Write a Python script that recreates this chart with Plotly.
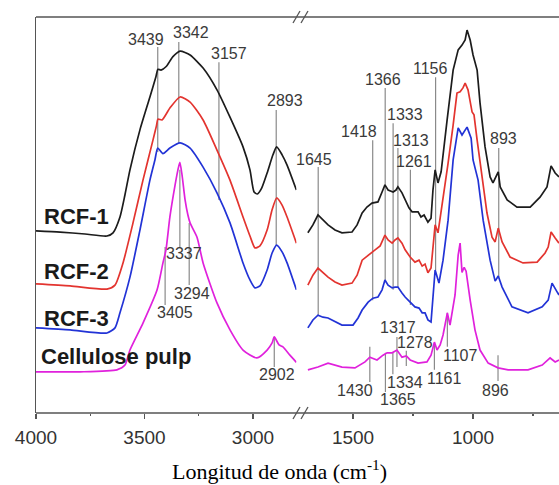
import plotly.graph_objects as go

# ---------------- data (wavenumber cm-1, absorbance a.u. with offsets) ----------------
# high-wavenumber segment (4000-2800)
rcf1_hi_wn = [4000, 3889, 3774, 3673, 3645, 3613, 3590, 3567, 3521, 3475, 3447, 3438, 3424, 3400, 3369, 3336, 3290, 3230, 3166, 3106, 3046, 3014, 2995, 2980, 2960, 2935, 2908, 2891, 2866, 2843, 2800]
rcf1_hi_ab = [46.0, 45.7, 45.2, 44.7, 45.5, 49.5, 55.1, 61.4, 71.5, 79.8, 85.0, 86.8, 86.6, 87.5, 90.0, 91.4, 90.4, 87.1, 81.6, 74.7, 67.2, 61.4, 55.8, 55.3, 56.8, 60.6, 65.2, 67.2, 65.2, 62.6, 56.3]

rcf2_hi_wn = [4000, 3843, 3673, 3636, 3599, 3553, 3507, 3461, 3445, 3438, 3419, 3383, 3336, 3290, 3230, 3166, 3106, 3046, 3014, 2991, 2968, 2935, 2912, 2891, 2866, 2843, 2800]
rcf2_hi_ab = [32.6, 32.1, 31.3, 32.3, 37.9, 48.0, 58.8, 68.9, 72.5, 74.2, 74.0, 77.0, 79.8, 78.5, 74.0, 66.4, 58.8, 49.5, 44.7, 41.7, 42.2, 46.2, 51.3, 54.3, 52.5, 49.5, 42.9]

rcf3_hi_wn = [4000, 3843, 3673, 3636, 3613, 3567, 3521, 3475, 3452, 3439, 3415, 3383, 3336, 3290, 3230, 3166, 3106, 3046, 3014, 2991, 2968, 2935, 2912, 2891, 2866, 2843, 2800]
rcf3_hi_ab = [21.5, 21.0, 20.2, 21.5, 25.3, 34.3, 46.2, 58.8, 63.9, 66.9, 65.5, 66.9, 68.2, 66.9, 62.1, 55.6, 48.0, 37.9, 33.6, 31.6, 32.1, 36.1, 40.4, 42.4, 40.7, 37.9, 31.1]

pulp_hi_wn = [4000, 3797, 3627, 3590, 3567, 3507, 3442, 3415, 3401, 3383, 3359, 3346, 3337, 3327, 3313, 3300, 3290, 3258, 3230, 3166, 3106, 3046, 2982, 2935, 2912, 2902, 2880, 2862, 2830, 2800]
pulp_hi_ab = [10.4, 10.4, 10.9, 12.1, 15.9, 22.7, 31.1, 37.9, 41.2, 49.5, 57.6, 61.4, 63.3, 60.1, 53.8, 50.0, 48.0, 44.4, 37.9, 27.8, 21.0, 15.9, 13.9, 15.9, 17.7, 19.2, 17.2, 16.7, 14.6, 12.8]

# low-wavenumber segment (1700-640)
rcf1_lo_wn = [1688, 1667, 1646, 1625, 1604, 1575, 1546, 1504, 1483, 1462, 1442, 1421, 1396, 1379, 1367, 1354, 1333, 1321, 1313, 1296, 1283, 1267, 1254, 1229, 1217, 1204, 1188, 1175, 1167, 1158, 1146, 1133, 1108, 1083, 1062, 1046, 1033, 1025, 1012, 1000, 983, 971, 950, 929, 917, 895, 887, 858, 817, 762, 721, 692, 675, 658, 642]
rcf1_lo_ab = [45.5, 47.5, 50.0, 48.7, 47.5, 46.2, 45.5, 45.7, 47.5, 50.5, 52.0, 53.0, 53.3, 55.8, 57.6, 56.3, 55.8, 56.3, 57.1, 55.6, 53.8, 51.8, 50.8, 50.8, 49.5, 50.0, 48.2, 49.2, 56.3, 61.4, 58.1, 60.9, 74.0, 86.6, 91.7, 92.9, 94.2, 96.7, 94.2, 90.4, 86.6, 78.3, 67.2, 59.6, 58.1, 60.9, 57.1, 53.8, 52.0, 52.0, 54.5, 57.1, 62.4, 60.6, 59.6]

rcf2_lo_wn = [1688, 1667, 1646, 1625, 1604, 1575, 1546, 1504, 1483, 1462, 1437, 1408, 1387, 1367, 1354, 1337, 1325, 1313, 1296, 1283, 1262, 1242, 1225, 1212, 1200, 1188, 1175, 1167, 1158, 1146, 1125, 1104, 1083, 1067, 1054, 1042, 1033, 1021, 1004, 996, 983, 962, 942, 921, 908, 895, 879, 846, 792, 733, 700, 687, 675, 658, 642]
rcf2_lo_ab = [32.3, 34.8, 36.6, 35.4, 34.3, 33.1, 32.3, 32.8, 34.8, 38.6, 39.9, 41.2, 42.2, 44.9, 43.7, 42.9, 43.7, 44.2, 42.9, 41.2, 39.4, 38.1, 38.6, 37.1, 37.6, 35.4, 36.6, 42.4, 47.5, 45.5, 53.8, 63.1, 72.7, 80.8, 81.1, 82.1, 83.3, 81.6, 76.0, 75.3, 68.9, 59.6, 50.5, 44.4, 43.2, 46.7, 43.2, 39.4, 37.9, 38.1, 40.4, 41.9, 45.7, 44.2, 42.9]

rcf3_lo_wn = [1688, 1667, 1646, 1625, 1604, 1575, 1546, 1500, 1479, 1462, 1437, 1417, 1396, 1379, 1367, 1354, 1337, 1325, 1313, 1296, 1283, 1262, 1242, 1225, 1212, 1200, 1188, 1175, 1167, 1158, 1142, 1125, 1104, 1083, 1062, 1046, 1025, 1008, 1000, 979, 958, 929, 908, 895, 879, 838, 771, 712, 687, 671, 650, 642]
rcf3_lo_ab = [21.5, 23.5, 24.7, 24.2, 24.0, 23.0, 22.2, 22.2, 24.0, 26.0, 28.0, 29.0, 29.3, 31.1, 33.6, 32.3, 31.6, 31.8, 31.8, 30.3, 29.3, 28.0, 26.8, 26.5, 25.3, 25.3, 23.5, 23.0, 29.8, 36.1, 32.8, 38.6, 48.7, 63.9, 72.0, 70.2, 72.2, 69.4, 63.9, 58.8, 48.7, 38.6, 33.3, 34.6, 31.8, 26.8, 25.3, 26.8, 28.5, 32.8, 30.6, 29.8]

pulp_lo_wn = [1688, 1646, 1604, 1546, 1492, 1450, 1430, 1400, 1375, 1358, 1337, 1317, 1296, 1278, 1262, 1229, 1192, 1175, 1161, 1150, 1137, 1125, 1107, 1096, 1075, 1062, 1054, 1046, 1037, 1029, 1012, 992, 971, 937, 896, 854, 771, 712, 679, 658, 642]
pulp_lo_ab = [10.9, 11.6, 12.6, 11.6, 11.4, 12.9, 14.1, 13.4, 14.6, 15.2, 15.2, 15.9, 14.1, 14.4, 13.4, 12.6, 12.9, 14.6, 17.9, 15.9, 17.2, 19.7, 25.3, 22.2, 29.8, 39.9, 42.9, 35.5, 36.8, 35.8, 28.5, 21.0, 15.9, 12.6, 11.4, 10.9, 10.9, 12.1, 13.9, 12.9, 13.4]

series_names = ["RCF-1", "RCF-2", "RCF-3", "Cellulose pulp"]
series_colors = ["#1c1c1c", "#e3342f", "#2233d6", "#e021dc"]

x_tick_hi = [4000, 3500, 3000]
x_minor_hi = [3750, 3250]
x_tick_lo = [1500, 1000]
x_minor_lo = [1250, 750]

# peak assignments
peaks_hi = [3439, 3342, 3157, 2893, 3405, 3337, 3294, 2902]
peaks_lo = [1645, 1418, 1366, 1333, 1313, 1261, 1156, 893, 1430, 1365, 1334, 1317, 1278, 1161, 1107, 896]

# ---------------- styling / placement of peak marks ----------------
# peak: (line y0, line y1, label x, label y)
mark_hi = {
    3439: (65.9, 92.4, 3493, 94.4),
    3342: (68.2, 93.7, 3286, 96.2),
    3157: (53.8, 88.6, 3111, 90.7),
    2893: (42.4, 76.5, 2853, 78.8),
    3405: (27.3, 41.9, 3359, 25.3),
    3337: (41.7, 61.4, 3318, 40.2),
    3294: (32.3, 48.0, 3281, 30.3),
    2902: (11.6, 19.2, 2889, 9.6),
}
mark_lo = {
    1645: (24.7, 62.1, 1662, 64.1),
    1418: (28.5, 68.9, 1475, 71.0),
    1366: (33.1, 82.1, 1375, 84.1),
    1333: (31.1, 73.2, 1283, 75.3),
    1313: (31.6, 66.9, 1258, 68.9),
    1261: (27.3, 61.4, 1246, 63.4),
    1156: (36.1, 84.8, 1179, 87.1),
    893: (34.3, 66.9, 875, 69.2),
    1430: (7.8, 16.7, 1492, 5.8),
    1365: (5.3, 15.2, 1312, 3.3),
    1334: (9.8, 15.2, 1283, 7.8),
    1317: (11.6, 19.2, 1312, 21.5),
    1278: (11.9, 15.7, 1242, 17.7),
    1161: (10.9, 17.7, 1121, 8.8),
    1107: (16.7, 25.3, 1054, 14.6),
    896: (8.1, 14.6, 908, 5.8),
}

W, H = 559, 485
ML, MR, MT, MB = 36, 0, 17, 72
PW = W - ML - MR
PH = H - MT - MB

def px(xp):
    return (xp - ML) / PW

def py(yp):
    return (H - MB - yp) / PH

fig = go.Figure()

hi = [(rcf1_hi_wn, rcf1_hi_ab), (rcf2_hi_wn, rcf2_hi_ab), (rcf3_hi_wn, rcf3_hi_ab), (pulp_hi_wn, pulp_hi_ab)]
lo = [(rcf1_lo_wn, rcf1_lo_ab), (rcf2_lo_wn, rcf2_lo_ab), (rcf3_lo_wn, rcf3_lo_ab), (pulp_lo_wn, pulp_lo_ab)]

shapes = []
annotations = []
gray = "#8a8a8a"
lab_font = dict(family="Liberation Sans, Arial, sans-serif", size=16, color="#3a3a3a")

for p in peaks_hi:
    y0, y1, lx, ly = mark_hi[p]
    shapes.append(dict(type="line", xref="x", yref="y", x0=p, x1=p, y0=y0, y1=y1,
                       line=dict(color=gray, width=1.2), layer="below"))
    annotations.append(dict(xref="x", yref="y", x=lx, y=ly, text=str(p), showarrow=False,
                            font=lab_font, xanchor="center", yanchor="middle"))
for p in peaks_lo:
    y0, y1, lx, ly = mark_lo[p]
    shapes.append(dict(type="line", xref="x2", yref="y", x0=p, x1=p, y0=y0, y1=y1,
                       line=dict(color=gray, width=1.2), layer="below"))
    annotations.append(dict(xref="x2", yref="y", x=lx, y=ly, text=str(p), showarrow=False,
                            font=lab_font, xanchor="center", yanchor="middle"))

for (wn, ab), name, col in zip(hi, series_names, series_colors):
    fig.add_trace(go.Scatter(x=wn, y=ab, xaxis="x", yaxis="y", mode="lines", name=name,
                             line=dict(color=col, width=1.7, shape="spline", smoothing=0.6),
                             showlegend=False, hoverinfo="skip"))
for (wn, ab), name, col in zip(lo, series_names, series_colors):
    fig.add_trace(go.Scatter(x=wn, y=ab, xaxis="x2", yaxis="y", mode="lines", name=name,
                             line=dict(color=col, width=1.7),
                             showlegend=False, hoverinfo="skip"))

# series labels
name_pos = {"RCF-1": (42, 216), "RCF-2": (42, 271), "RCF-3": (42, 318), "Cellulose pulp": (39, 356)}
for n in series_names:
    xl, yl = name_pos[n]
    annotations.append(dict(xref="paper", yref="paper", x=px(xl), y=py(yl), text="<b>%s</b>" % n,
                            showarrow=False, xanchor="left", yanchor="middle",
                            font=dict(family="Liberation Sans, Arial, sans-serif", size=22, color="#1a1a1a")))

# axis title
annotations.append(dict(xref="paper", yref="paper", x=px(279), y=py(470),
                        text="Longitud de onda (cm<sup>-1</sup>)", showarrow=False,
                        xanchor="center", yanchor="middle",
                        font=dict(family="Liberation Serif, Times New Roman, serif", size=22, color="#000")))

axc = "#555555"
# frame top/bottom
shapes.append(dict(type="line", xref="paper", yref="paper", x0=0, x1=1.01, y0=1, y1=1, line=dict(color=axc, width=1.5)))
shapes.append(dict(type="line", xref="paper", yref="paper", x0=0, x1=1.01, y0=0, y1=0, line=dict(color=axc, width=1.5)))
# break marks
for yb in (413, 17):
    for xs in (293, 301):
        shapes.append(dict(type="line", xref="paper", yref="paper", x0=px(xs), y0=py(yb + 6),
                           x1=px(xs + 7), y1=py(yb - 6), line=dict(color=axc, width=1.3)))

tickfont = dict(family="Liberation Sans, Arial, sans-serif", size=19, color="#333")
d1 = (1200 * 0.217) / PW
d2 = (473 - 700 * 0.24 - ML) / PW

fig.update_layout(
    width=W, height=H,
    margin=dict(l=ML, r=MR, t=MT, b=MB),
    paper_bgcolor="white", plot_bgcolor="white",
    showlegend=False,
    xaxis=dict(domain=[0, d1], range=[4000, 2800], tickvals=x_tick_hi, ticks="outside", ticklen=5,
               tickcolor=axc, tickwidth=1.2, showgrid=False, zeroline=False, showline=False,
               tickfont=tickfont, anchor="y", ticklabelstandoff=2,
               minor=dict(tickvals=x_minor_hi, ticks="outside", ticklen=2, tickcolor=axc, showgrid=False)),
    xaxis2=dict(domain=[d2, 1], range=[1700, 642], tickvals=x_tick_lo, ticks="outside", ticklen=5,
                tickcolor=axc, tickwidth=1.2, showgrid=False, zeroline=False, showline=False,
                tickfont=tickfont, anchor="y", ticklabelstandoff=2,
                minor=dict(tickvals=x_minor_lo, ticks="outside", ticklen=2, tickcolor=axc, showgrid=False)),
    yaxis=dict(range=[0, 100], showticklabels=False, ticks="", showgrid=False, zeroline=False,
               showline=True, linecolor=axc, linewidth=1.5),
    shapes=shapes,
    annotations=annotations,
)

fig.write_html("out.html", config={"displayModeBar": False, "staticPlot": True},
               post_script="document.body.style.margin='0px';document.body.style.overflow='hidden';")
